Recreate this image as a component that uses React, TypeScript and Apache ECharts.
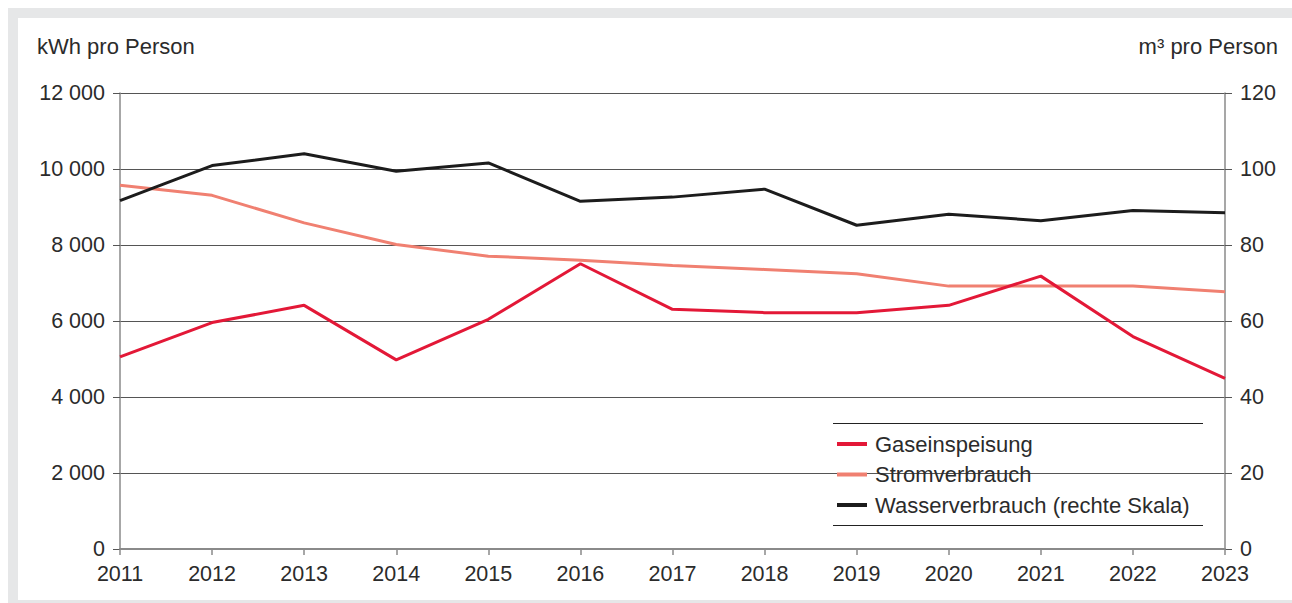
import React, { useEffect, useRef } from "react";
import * as echarts from "echarts";

const years = ["2011", "2012", "2013", "2014", "2015", "2016", "2017", "2018", "2019", "2020", "2021", "2022", "2023"];
const gasFeed = [5055, 5958, 6412, 4976, 6044, 7506, 6307, 6220, 6220, 6412, 7181, 5590, 4488];
const electricity = [9570, 9307, 8582, 8013, 7706, 7601, 7462, 7357, 7244, 6918, 6918, 6918, 6771];
const water = [91.7, 100.9, 104.0, 99.4, 101.6, 91.5, 92.6, 94.7, 85.2, 88.1, 86.4, 89.1, 88.5];
const seriesNames = ["Gaseinspeisung", "Stromverbrauch", "Wasserverbrauch (rechte Skala)"];
const leftAxisTitle = "kWh pro Person";
const rightAxisTitle = "m³ pro Person";

const FONT = "'Liberation Sans', Arial, sans-serif";
const TEXT = "#2b2b2b";
const FS = 21.5;

export default function App() {
  const ref = useRef<HTMLDivElement>(null);
  useEffect(() => {
    document.body.style.margin = "0";
    document.body.style.overflow = "hidden";
    const chart = echarts.init(ref.current!, null, { renderer: "svg" });
    const fmt = (v: number) => {
      const s = String(Math.round(v));
      return s.replace(/\B(?=(\d{3})+(?!\d))/g, " ");
    };
    chart.setOption({
      animation: false,
      backgroundColor: "transparent",
      textStyle: { fontFamily: FONT },
      grid: { left: 120, right: 67, top: 93, bottom: 54, containLabel: false },
      xAxis: {
        type: "category",
        data: years,
        boundaryGap: false,
        axisLine: { lineStyle: { color: "#8a8a8a", width: 2 } },
        axisTick: { show: true, length: 6, lineStyle: { color: "#8a8a8a", width: 1.5 } },
        axisLabel: { color: TEXT, fontSize: FS, margin: 14, fontFamily: FONT },
        splitLine: { show: false },
      },
      yAxis: [
        {
          type: "value",
          min: 0,
          max: 12000,
          interval: 2000,
          axisLine: { show: true, lineStyle: { color: "#8a8a8a", width: 1.5 } },
          axisTick: { show: true, length: 7, lineStyle: { color: "#555", width: 1 } },
          axisLabel: { color: TEXT, fontSize: FS, margin: 15, fontFamily: FONT, formatter: fmt },
          splitLine: { show: true, lineStyle: { color: "#555", width: 1 } },
        },
        {
          type: "value",
          min: 0,
          max: 120,
          interval: 20,
          position: "right",
          axisLine: { show: true, lineStyle: { color: "#8a8a8a", width: 1.5 } },
          axisTick: { show: true, length: 7, lineStyle: { color: "#555", width: 1 } },
          axisLabel: { color: TEXT, fontSize: FS, margin: 15, fontFamily: FONT },
          splitLine: { show: false },
        },
      ],
      legend: {
        orient: "vertical",
        left: 837,
        top: 433,
        padding: 0,
        itemWidth: 30,
        itemHeight: 4,
        itemGap: 8.5,
        icon: "rect",
        textStyle: { color: TEXT, fontSize: 22, lineHeight: 22, fontFamily: FONT, padding: [0, 0, 0, 3] },
        data: seriesNames,
      },
      graphic: [
        { type: "text", left: 37, top: 35, style: { text: leftAxisTitle, fill: TEXT, fontSize: 22, fontFamily: FONT } },
        { type: "text", right: 14, top: 35, style: { text: rightAxisTitle, fill: TEXT, fontSize: 22, fontFamily: FONT } },
        { type: "line", shape: { x1: 833, y1: 423.5, x2: 1203, y2: 423.5 }, style: { stroke: "#222", lineWidth: 1 } },
        { type: "line", shape: { x1: 833, y1: 525.5, x2: 1203, y2: 525.5 }, style: { stroke: "#222", lineWidth: 1 } },
      ],
      series: [
        {
          name: seriesNames[0],
          type: "line",
          data: gasFeed,
          yAxisIndex: 0,
          symbol: "none",
          lineStyle: { color: "#e31837", width: 3 },
          itemStyle: { color: "#e31837" },
          z: 4,
        },
        {
          name: seriesNames[1],
          type: "line",
          data: electricity,
          yAxisIndex: 0,
          symbol: "none",
          lineStyle: { color: "#f08071", width: 3 },
          itemStyle: { color: "#f08071" },
          z: 3,
        },
        {
          name: seriesNames[2],
          type: "line",
          data: water,
          yAxisIndex: 1,
          symbol: "none",
          lineStyle: { color: "#1c1c1c", width: 3 },
          itemStyle: { color: "#1c1c1c" },
          z: 5,
        },
      ],
    });
    return () => chart.dispose();
  }, []);

  return (
    <div style={{ position: "fixed", left: 0, top: 0, width: 1292, height: 603, background: "#fff", overflow: "hidden" }}>
      <div style={{ position: "absolute", left: 8, top: 8, width: 1300, height: 620, background: "#e6e7e8" }} />
      <div style={{ position: "absolute", left: 18, top: 18, width: 1300, height: 582, background: "#fff" }} />
      <div ref={ref} style={{ position: "absolute", left: 0, top: 0, width: 1292, height: 603 }} />
    </div>
  );
}
